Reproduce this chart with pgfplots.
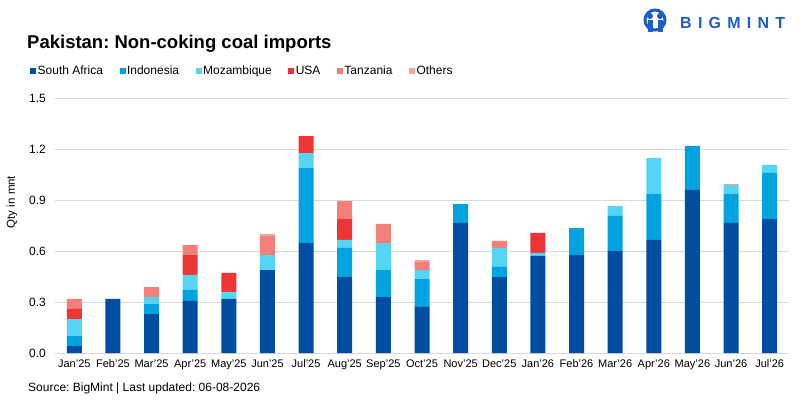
\documentclass[border=0pt]{standalone}
\usepackage{pgfplots}
\usepackage{pgfplotstable}
\pgfplotsset{compat=1.18}
\usepackage{fontspec}
\setmainfont{Liberation Sans}
\frenchspacing
\definecolor{csa}{HTML}{004DA1}
\definecolor{cin}{HTML}{00A3E0}
\definecolor{cmo}{HTML}{55D4F3}
\definecolor{cus}{HTML}{EE3535}
\definecolor{cta}{HTML}{F47F78}
\definecolor{cot}{HTML}{F5A39D}
\definecolor{logo}{HTML}{1E5EC8}
\definecolor{gridc}{HTML}{D9D9D9}
\pgfplotstableread{
x  sa    in    mo    us    ta    ot
0  0.041 0.059 0.100 0.059 0.059 0
1  0.318 0     0     0     0     0
2  0.229 0.059 0.041 0     0.059 0
3  0.306 0.065 0.088 0.117 0.059 0
4  0.318 0     0.041 0.112 0     0
5  0.488 0     0.088 0     0.112 0.012
6  0.647 0.441 0.088 0.100 0     0
7  0.447 0.171 0.047 0.123 0.106 0
8  0.329 0.159 0.159 0     0.112 0
9  0.271 0.164 0.053 0     0.047 0.012
10 0.765 0.111 0     0     0     0
11 0.447 0.059 0.112 0     0.041 0
12 0.571 0     0.018 0.118 0     0
13 0.576 0.159 0     0     0     0
14 0.600 0.206 0.059 0     0     0
15 0.665 0.270 0.212 0     0     0
16 0.959 0.259 0     0     0     0
17 0.765 0.170 0.053 0     0     0.006
18 0.788 0.271 0.047 0     0     0
}\datatable
\begin{document}
\begin{tikzpicture}[x=1pt,y=1pt]
\path[use as bounding box] (0pt,0pt) rectangle (800pt,400pt);
\node[anchor=base west, inner sep=0pt, font=\fontsize{18.5}{20}\selectfont\bfseries] at (27pt,352pt) {Pakistan: Non-coking coal imports};
% logo
\draw[logo, line width=3pt] (655pt,380pt) circle (10pt);
\fill[logo] (650pt,384pt) circle (3pt);
\fill[logo] (660pt,384pt) circle (3pt);
\fill[logo] (647.5pt,368pt) rectangle (652.5pt,380pt);
\fill[logo] (657.5pt,368pt) rectangle (662.5pt,380pt);
\node[anchor=west, inner sep=0pt, text=logo, font=\fontsize{16}{18}\selectfont\bfseries] at (680pt,377.5pt) {\makebox[105pt][s]{B\hfill I\hfill G\hfill M\hfill I\hfill N\hfill T}};
\node[rotate=90, font=\fontsize{11.5}{13}\selectfont] at (12pt,198pt) {Qty in mnt};
\node[anchor=base west, inner sep=0pt, font=\fontsize{12}{14}\selectfont] at (28pt,9pt) {Source: BigMint | Last updated: 06-08-2026};
\begin{axis}[
  at={(55pt,47pt)}, anchor=south west, scale only axis,
  width=734pt, height=255pt,
  ybar stacked, bar width=15pt,
  xmin=-0.5, xmax=18.5, ymin=0, ymax=1.5,
  xtick={0,...,18},
  xticklabels={Jan'25,Feb'25,Mar'25,Apr'25,May'25,Jun'25,Jul'25,Aug'25,Sep'25,Oct'25,Nov'25,Dec'25,Jan'26,Feb'26,Mar'26,Apr'26,May'26,Jun'26,Jul'26},
  ytick={0,0.3,0.6,0.9,1.2,1.5},
  yticklabel style={/pgf/number format/fixed,/pgf/number format/fixed zerofill,/pgf/number format/precision=1, font=\fontsize{12}{14}\selectfont, inner sep=0pt, xshift=-9pt},
  /pgf/number format/assume math mode=true,
  xticklabel style={font=\fontsize{11}{13}\selectfont, inner sep=0pt, yshift=-6pt, text height=8pt, text depth=2pt, anchor=north},
  major tick length=0pt,
  ymajorgrids, grid style={draw=gridc, line width=0.9pt},
  axis x line*=bottom, axis y line*=left,
  x axis line style={draw=gridc, line width=0.9pt, -},
  y axis line style={draw=none},
  every axis plot/.append style={draw=none, fill opacity=1},
  legend columns=-1,
  legend style={at={(-25pt,282pt)}, anchor=west, draw=none, fill=none, inner sep=0pt,
    font=\fontsize{12}{14}\selectfont,
    /tikz/every even column/.append style={column sep=16pt},
    /tikz/every odd column/.append style={column sep=1pt},
    nodes={inner sep=0.5pt}},
  legend image code/.code={\fill[#1] (0pt,-3pt) rectangle (6pt,3pt);},
]
\addplot[fill=csa] table[x=x,y=sa]{\datatable};
\addplot[fill=cin] table[x=x,y=in]{\datatable};
\addplot[fill=cmo] table[x=x,y=mo]{\datatable};
\addplot[fill=cus] table[x=x,y=us]{\datatable};
\addplot[fill=cta] table[x=x,y=ta]{\datatable};
\addplot[fill=cot] table[x=x,y=ot]{\datatable};
\legend{South Africa,Indonesia,Mozambique,USA,Tanzania,Others}
\end{axis}
\end{tikzpicture}
\end{document}
